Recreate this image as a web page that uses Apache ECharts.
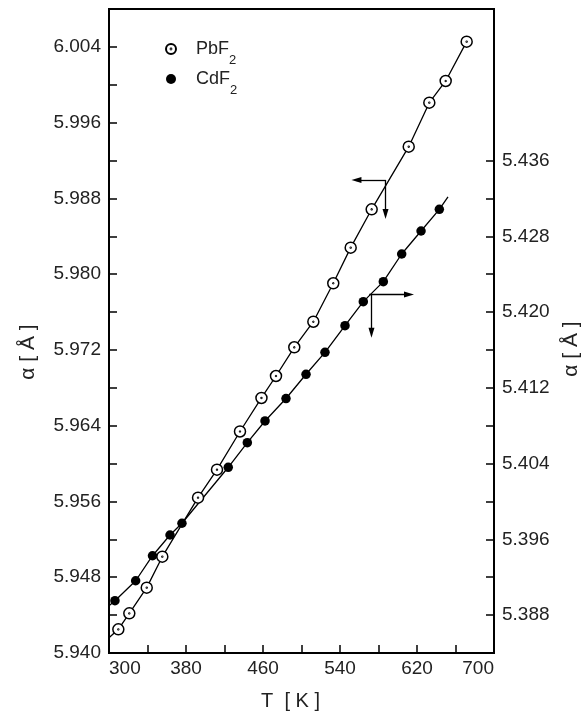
<!DOCTYPE html>
<html>
<head>
<meta charset="utf-8">
<script src="https://cdn.jsdelivr.net/npm/echarts@6/dist/echarts.min.js"></script>
<style>
  html, body { margin: 0; padding: 0; background: #fff; }
  #chart { width: 581px; height: 715px; }
</style>
</head>
<body>
<div id="chart"></div>
<script>
// Lattice parameter of PbF2 (left axis) and CdF2 (right axis) versus temperature
const temperaturePb = [309.7, 321.1, 339.2, 355.4, 392.5, 412.2, 436.1, 458.4, 473.5, 492.5,
                       512.3, 533.0, 551.1, 572.9, 611.4, 632.8, 649.8, 671.6];
const latticePb = [5.94250, 5.94419, 5.94690, 5.95017, 5.95640, 5.95936, 5.96339, 5.96693, 5.96925, 5.97228,
                   5.97498, 5.97904, 5.98280, 5.98685, 5.99346, 5.99811, 6.00040, 6.00455];

const temperatureCd = [306.2, 327.7, 345.2, 363.4, 375.8, 423.9, 443.7, 462.1, 483.9, 504.7,
                       524.4, 545.2, 564.2, 585.0, 604.1, 624.2, 643.2];
const latticeCd = [5.38952, 5.39163, 5.39427, 5.39646, 5.39770, 5.40361, 5.40621, 5.40850, 5.41087, 5.41343,
                   5.41575, 5.41856, 5.42110, 5.42321, 5.42613, 5.42856, 5.43085];

// ends of the drawn curves beyond the measured points
const pbCurveStart = [300, 5.9416];
const cdCurveStart = [300, 5.3890];
const cdCurveEnd = [652.2, 5.43215];

// axis-pointer arrows: [corner T, corner a, horizontal tip T, vertical tip a]
const pbArrow = [587.3, 5.98995, 557.1, 5.98636];
const cdArrow = [572.7, 5.42186, 611.7, 5.41782];
const cdArrowStartT = 570.4;

// tick labels
const xLabels = [300, 380, 460, 540, 620, 700];
const leftLabels = [5.940, 5.948, 5.956, 5.964, 5.972, 5.980, 5.988, 5.996, 6.004];
const rightLabels = [5.388, 5.396, 5.404, 5.412, 5.420, 5.428, 5.436];
const rightTicks = [5.384, 5.388, 5.392, 5.396, 5.400, 5.404, 5.408, 5.412, 5.416, 5.420,
                    5.424, 5.428, 5.432, 5.436];

const pairs = (xs, ys) => xs.map((x, i) => [x, ys[i]]);
const pbPoints = pairs(temperaturePb, latticePb);
const cdPoints = pairs(temperatureCd, latticeCd);

function pick(list, digits) {
  return function (v) {
    for (const l of list) {
      if (Math.abs(v - l) < 1e-7) return l.toFixed(digits);
    }
    return '';
  };
}

const FONT = '"Liberation Sans", Arial, Helvetica, sans-serif';
const INK = '#222';

// open circle with a centre dot
const ringDot = 'path://M0,-10A10,10,0,1,1,0,10A10,10,0,1,1,0,-10ZM0,-0.8A0.8,0.8,0,1,1,0,0.8A0.8,0.8,0,1,1,0,-0.8Z';

const arrowLine = { color: '#000', width: 1.3, type: 'solid' };

const chart = echarts.init(document.getElementById('chart'), null, { renderer: 'canvas' });
chart.setOption({
  animation: false,
  backgroundColor: '#fff',
  textStyle: { fontFamily: FONT },
  grid: {
    left: 109, right: 87, top: 9, bottom: 62,
    outerBoundsMode: 'none',
    containLabel: false,
    show: true, borderColor: '#000', borderWidth: 2, backgroundColor: 'transparent'
  },
  legend: {
    data: ['PbF2', 'CdF2'],
    orient: 'vertical',
    left: 160,
    top: 26,
    itemWidth: 40,
    itemHeight: 10,
    itemGap: -6,
    selectedMode: false,
    formatter: name => name.slice(0, -1) + '{s|2}',
    textStyle: {
      fontFamily: FONT, fontSize: 18, color: INK, lineHeight: 36,
      rich: { s: { fontFamily: FONT, fontSize: 13, color: INK, lineHeight: 13, verticalAlign: 'bottom' } }
    }
  },
  xAxis: {
    type: 'value',
    min: 300, max: 700, interval: 40,
    name: 'T  [ K ]',
    nameLocation: 'middle',
    nameGap: 38,
    nameTextStyle: { fontFamily: FONT, fontSize: 20, color: INK, padding: [0, 22, 0, 0] },
    axisLine: { show: true, onZero: false, lineStyle: { color: '#000', width: 2 } },
    axisTick: { show: true, inside: true, length: 8, lineStyle: { color: '#000', width: 1.5 } },
    axisLabel: {
      formatter: pick(xLabels, 0), fontFamily: FONT, fontSize: 19, color: INK, margin: 6,
      showMinLabel: true, showMaxLabel: true, alignMinLabel: 'left', alignMaxLabel: 'right'
    },
    splitLine: { show: false }
  },
  yAxis: [
    {
      type: 'value',
      position: 'left',
      min: 5.940, max: 6.008, interval: 0.004,
      name: 'α [ Å ]',
      nameLocation: 'middle',
      nameRotate: 90,
      nameGap: 70,
      nameTextStyle: { fontFamily: FONT, fontSize: 21, color: INK, padding: [0, 42, 0, 0] },
      axisLine: { show: true, onZero: false, lineStyle: { color: '#000', width: 2 } },
      axisTick: { show: true, inside: true, length: 8, lineStyle: { color: '#000', width: 1.5 } },
      axisLabel: { formatter: pick(leftLabels, 3), fontFamily: FONT, fontSize: 19, color: INK, margin: 8 },
      splitLine: { show: false }
    },
    {
      type: 'value',
      position: 'right',
      min: 5.384, max: 5.452, interval: 0.004,
      name: 'α [ Å ]',
      nameLocation: 'middle',
      nameRotate: 90,
      nameGap: 58,
      nameTextStyle: { fontFamily: FONT, fontSize: 21, color: INK, padding: [0, 36, 0, 0] },
      axisLine: { show: true, onZero: false, lineStyle: { color: '#000', width: 2 } },
      axisTick: {
        show: true, inside: true, length: 8, customValues: rightTicks,
        lineStyle: { color: '#000', width: 1.5 }
      },
      axisLabel: { formatter: pick(rightLabels, 3), fontFamily: FONT, fontSize: 19, color: INK, margin: 8 },
      splitLine: { show: false }
    }
  ],
  series: [
    {
      name: 'PbF2 curve',
      type: 'line',
      yAxisIndex: 0,
      data: [pbCurveStart].concat(pbPoints),
      showSymbol: false,
      silent: true,
      lineStyle: { color: '#000', width: 1.3 },
      z: 2,
      markLine: {
        silent: true,
        symbol: ['none', 'triangle'],
        symbolSize: [6, 10],
        label: { show: false },
        lineStyle: arrowLine,
        data: [
          [{ coord: [pbArrow[0], pbArrow[1]] }, { coord: [pbArrow[2], pbArrow[1]] }],
          [{ coord: [pbArrow[0], pbArrow[1]] }, { coord: [pbArrow[0], pbArrow[3]] }]
        ]
      }
    },
    {
      name: 'CdF2 curve',
      type: 'line',
      yAxisIndex: 1,
      data: [cdCurveStart].concat(cdPoints, [cdCurveEnd]),
      showSymbol: false,
      silent: true,
      lineStyle: { color: '#000', width: 1.3 },
      z: 2,
      markLine: {
        silent: true,
        symbol: ['none', 'triangle'],
        symbolSize: [6, 10],
        label: { show: false },
        lineStyle: arrowLine,
        data: [
          [{ coord: [cdArrowStartT, cdArrow[1]] }, { coord: [cdArrow[2], cdArrow[1]] }],
          [{ coord: [cdArrow[0], cdArrow[1]] }, { coord: [cdArrow[0], cdArrow[3]] }]
        ]
      }
    },
    {
      name: 'PbF2',
      type: 'scatter',
      yAxisIndex: 0,
      data: pbPoints,
      symbol: ringDot,
      symbolSize: 11,
      itemStyle: { color: '#fff', borderColor: '#000', borderWidth: 1.5, opacity: 1 },
      z: 5
    },
    {
      name: 'CdF2',
      type: 'scatter',
      yAxisIndex: 1,
      data: cdPoints,
      symbol: 'circle',
      symbolSize: 9.5,
      itemStyle: { color: '#000', opacity: 1 },
      z: 5
    }
  ]
});
</script>
</body>
</html>
